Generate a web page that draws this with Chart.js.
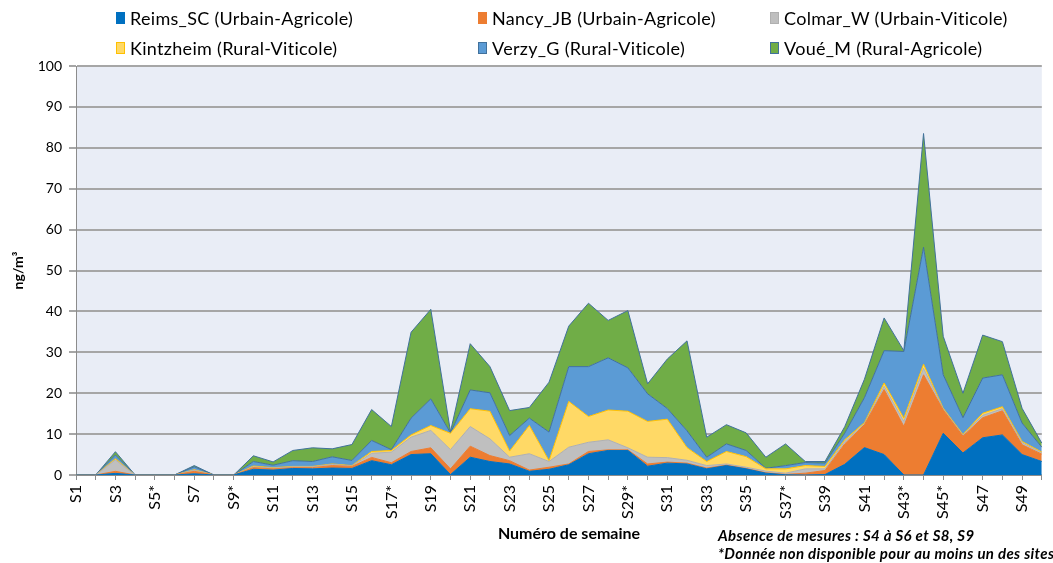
<!DOCTYPE html>
<html>
<head>
<meta charset="utf-8">
<script src="https://cdn.jsdelivr.net/npm/chart.js@4.4.1/dist/chart.umd.min.js"></script>
<style>
  html, body { margin: 0; padding: 0; overflow: hidden; background: #fff; width: 1053px; height: 563px; }
  #wrap { position: absolute; left: 0; top: 0; width: 1066px; height: 563px; }
  #legend { position: absolute; left: 0; top: 0; width: 1053px; height: 64px; font-family: Lato, sans-serif; font-size: 18px; letter-spacing: 0.3px; color: #000; }
  .item { position: absolute; display: flex; align-items: center; white-space: nowrap; }
  .box { width: 9px; height: 12px; margin-right: 5px; box-sizing: border-box; }
</style>
</head>
<body>
<div id="wrap"><canvas id="c"></canvas></div>
<div id="legend"></div>
<script>
// semaines S1..S50 (S50 coupée au bord droit)
const weeks = ['S1','S2','S3','S4','S5*','S6','S7','S8','S9*','S10',
  'S11','S12','S13','S14','S15','S16','S17*','S18','S19','S20',
  'S21','S22','S23','S24','S25','S26','S27','S28','S29*','S30',
  'S31','S32','S33','S34','S35','S36','S37*','S38','S39','S40',
  'S41','S42','S43*','S44','S45*','S46','S47','S48','S49','S50'];

const siteNames = ['Reims_SC (Urbain-Agricole)', 'Nancy_JB (Urbain-Agricole)', 'Colmar_W (Urbain-Viticole)',
  'Kintzheim (Rural-Viticole)', 'Verzy_G (Rural-Viticole)', 'Voué_M (Rural-Agricole)'];

// valeurs en ng/m3
const reims = [0,0,0.4,0,0,0,0.3,0,0,1.4, 1.2,1.6,1.5,1.7,1.6,3.5,2.5,5.0,5.2,0.1,
  4.35,3.3,2.7,0.9,1.4,2.5,5.2,6.0,6.0,2.15, 2.9,2.7,1.5,2.3,1.5,0.45,0.05,0,0.1,2.6,
  6.7,5.0,0,0,10.2,5.4,9.1,9.8,5.0,3.3];
const nancy = [0,0,0.5,0,0,0,0.6,0,0,0.4, 0.3,0.2,0.3,0.6,0.5,0.8,0.5,0.75,1.45,1.4,
  2.7,1.45,0.8,0.3,0.5,0.2,0.55,0.15,0.15,0.55, 0.25,0.2,0.2,0.1,0.1,0.1,0.1,0.45,1.0,5.0,
  5.6,15.9,11.9,24.5,5.7,4.1,4.9,5.9,2.4,1.8];
const colmar = [0,0,2.8,0,0,0,0.3,0,0,0.2, 0.2,0.2,0.2,0.3,0.1,1.0,2.6,3.5,4.25,4.7,
  4.8,4.1,0.85,4.0,1.4,4.1,2.25,2.45,0.5,1.65, 1.1,0.7,0.6,0.3,0.3,0.4,0.3,1.05,0.4,0.6,
  0.2,0.8,1.2,1.6,0.2,0.2,0.6,0.5,0.5,0.3];
const kintzheim = [0,0,0.3,0,0,0,0.1,0,0,0.2, 0.1,0.1,0.1,0.1,0.1,0.45,0.4,0.55,1.2,4.0,
  4.35,6.75,1.5,6.9,0.2,11.2,6.3,7.3,8.95,8.75, 9.4,3.1,1.0,3.05,2.6,0.55,1.05,0.8,0.6,0.4,
  0.3,0.8,0.8,1.0,0.2,0.2,0.5,0.5,0.3,0.2];
const verzy = [0,0,0.9,0,0,0,0.7,0,0,1.1, 0.6,1.4,1.2,1.75,1.25,2.7,0.2,4.1,6.5,0.1,
  4.6,4.5,3.8,1.8,7.0,8.5,12.2,12.75,10.6,6.75, 2.6,4.1,1.05,1.85,1.5,0.15,0.8,0.75,0.8,1.6,
  6.1,7.9,16.3,28.6,8.2,4.1,8.6,7.8,4.5,1.2];
const voue = [0,0,0.8,0,0,0,0.3,0,0,1.4, 0.8,2.5,3.35,1.95,3.9,7.55,5.65,21.0,21.9,0.3,
  11.3,6.4,6.1,2.6,12.2,9.9,15.5,9.15,14.0,2.45, 12.1,22.0,4.9,4.7,4.3,2.7,5.3,0.25,0.4,1.6,
  4.5,8.0,0.2,27.8,9.4,6.0,10.5,8.1,3.6,1.0];

const series = [reims, nancy, colmar, kintzheim, verzy, voue];
const fills = ['#0070C0', '#ED7D31', '#BFBFBF', '#FFD966', '#5B9BD5', '#70AD47'];
const borders = ['#0070C0', '#ED7D31', '#B0B0B0', '#FFC000', '#41719C', '#41719C'];

const xTitle = 'Numéro de semaine';
const notes = ['Absence de mesures : S4 à S6 et S8, S9', '*Donnée non disponible pour au moins un des sites'];

const FONT = 'Lato, sans-serif';

// légende HTML sur 3 colonnes comme Excel
const legend = document.getElementById('legend');
const cols = [116, 478, 770];
const rows = [18, 48];
siteNames.forEach((name, i) => {
  const el = document.createElement('div');
  el.className = 'item';
  el.style.left = cols[i % 3] + 'px';
  el.style.top = (rows[Math.floor(i / 3)] - 11) + 'px';
  el.style.height = '22px';
  el.innerHTML = '<span class="box" style="background:' + fills[i] + ';border:1px solid ' + borders[i] + '"></span>' + name;
  legend.appendChild(el);
});

const plotBg = {
  id: 'plotBg',
  beforeDraw(chart) {
    const { ctx, chartArea: a } = chart;
    ctx.save();
    ctx.fillStyle = '#E9EDF6';
    ctx.fillRect(a.left, a.top, a.right - a.left, a.bottom - a.top);
    ctx.restore();
  }
};

// titre de l'axe X et notes en bas à droite
const notesPlugin = {
  id: 'notes',
  afterDraw(chart) {
    const ctx = chart.ctx;
    ctx.save();
    ctx.fillStyle = '#000';
    ctx.textBaseline = 'middle';
    ctx.font = 'bold 16px ' + FONT;
    ctx.textAlign = 'center';
    ctx.fillText(xTitle, 569, 534);
    ctx.font = 'italic bold 15px ' + FONT;
    ctx.letterSpacing = '0.35px';
    ctx.textAlign = 'left';
    ctx.fillText(notes[0], 718, 536);
    ctx.fillText(notes[1], 718, 554);
    ctx.restore();
  }
};

new Chart(document.getElementById('c'), {
  type: 'line',
  data: {
    labels: weeks,
    datasets: series.map((d, i) => ({
      label: siteNames[i],
      data: d,
      backgroundColor: fills[i],
      borderColor: borders[i],
      borderWidth: 1,
      pointRadius: 0,
      tension: 0,
      fill: i === 0 ? 'origin' : '-1'
    }))
  },
  options: {
    responsive: true,
    maintainAspectRatio: false,
    animation: false,
    layout: { padding: { top: 66, right: 2, left: 0, bottom: 0 } },
    plugins: {
      legend: { display: false },
      tooltip: { enabled: false }
    },
    scales: {
      x: {
        offset: false,
        afterFit: s => { s.height = 88; },
        grid: { display: true, drawOnChartArea: false, drawTicks: true, tickLength: 5, color: '#8c8c8c' },
        border: { display: true, color: '#8c8c8c', width: 1 },
        ticks: {
          autoSkip: false,
          minRotation: 90,
          maxRotation: 90,
          padding: 5,
          color: '#000',
          font: { family: FONT, size: 16 },
          callback: (v, i) => i % 2 === 0 ? weeks[i] : ''
        }
      },
      y: {
        stacked: true,
        min: 0,
        max: 100,
        afterFit: s => { s.width = 76; },
        grid: { color: '#a6a6a6', lineWidth: 2, tickLength: 7 },
        border: { display: true, color: '#8c8c8c', width: 1 },
        ticks: {
          stepSize: 10,
          padding: 7,
          color: '#000',
          font: { family: FONT, size: 14 }
        },
        title: {
          display: true,
          text: 'ng/m³',
          color: '#000',
          font: { family: FONT, size: 14, weight: 'bold' },
          padding: { top: 10, bottom: 0 }
        }
      }
    }
  },
  plugins: [plotBg, notesPlugin]
});
</script>
</body>
</html>
